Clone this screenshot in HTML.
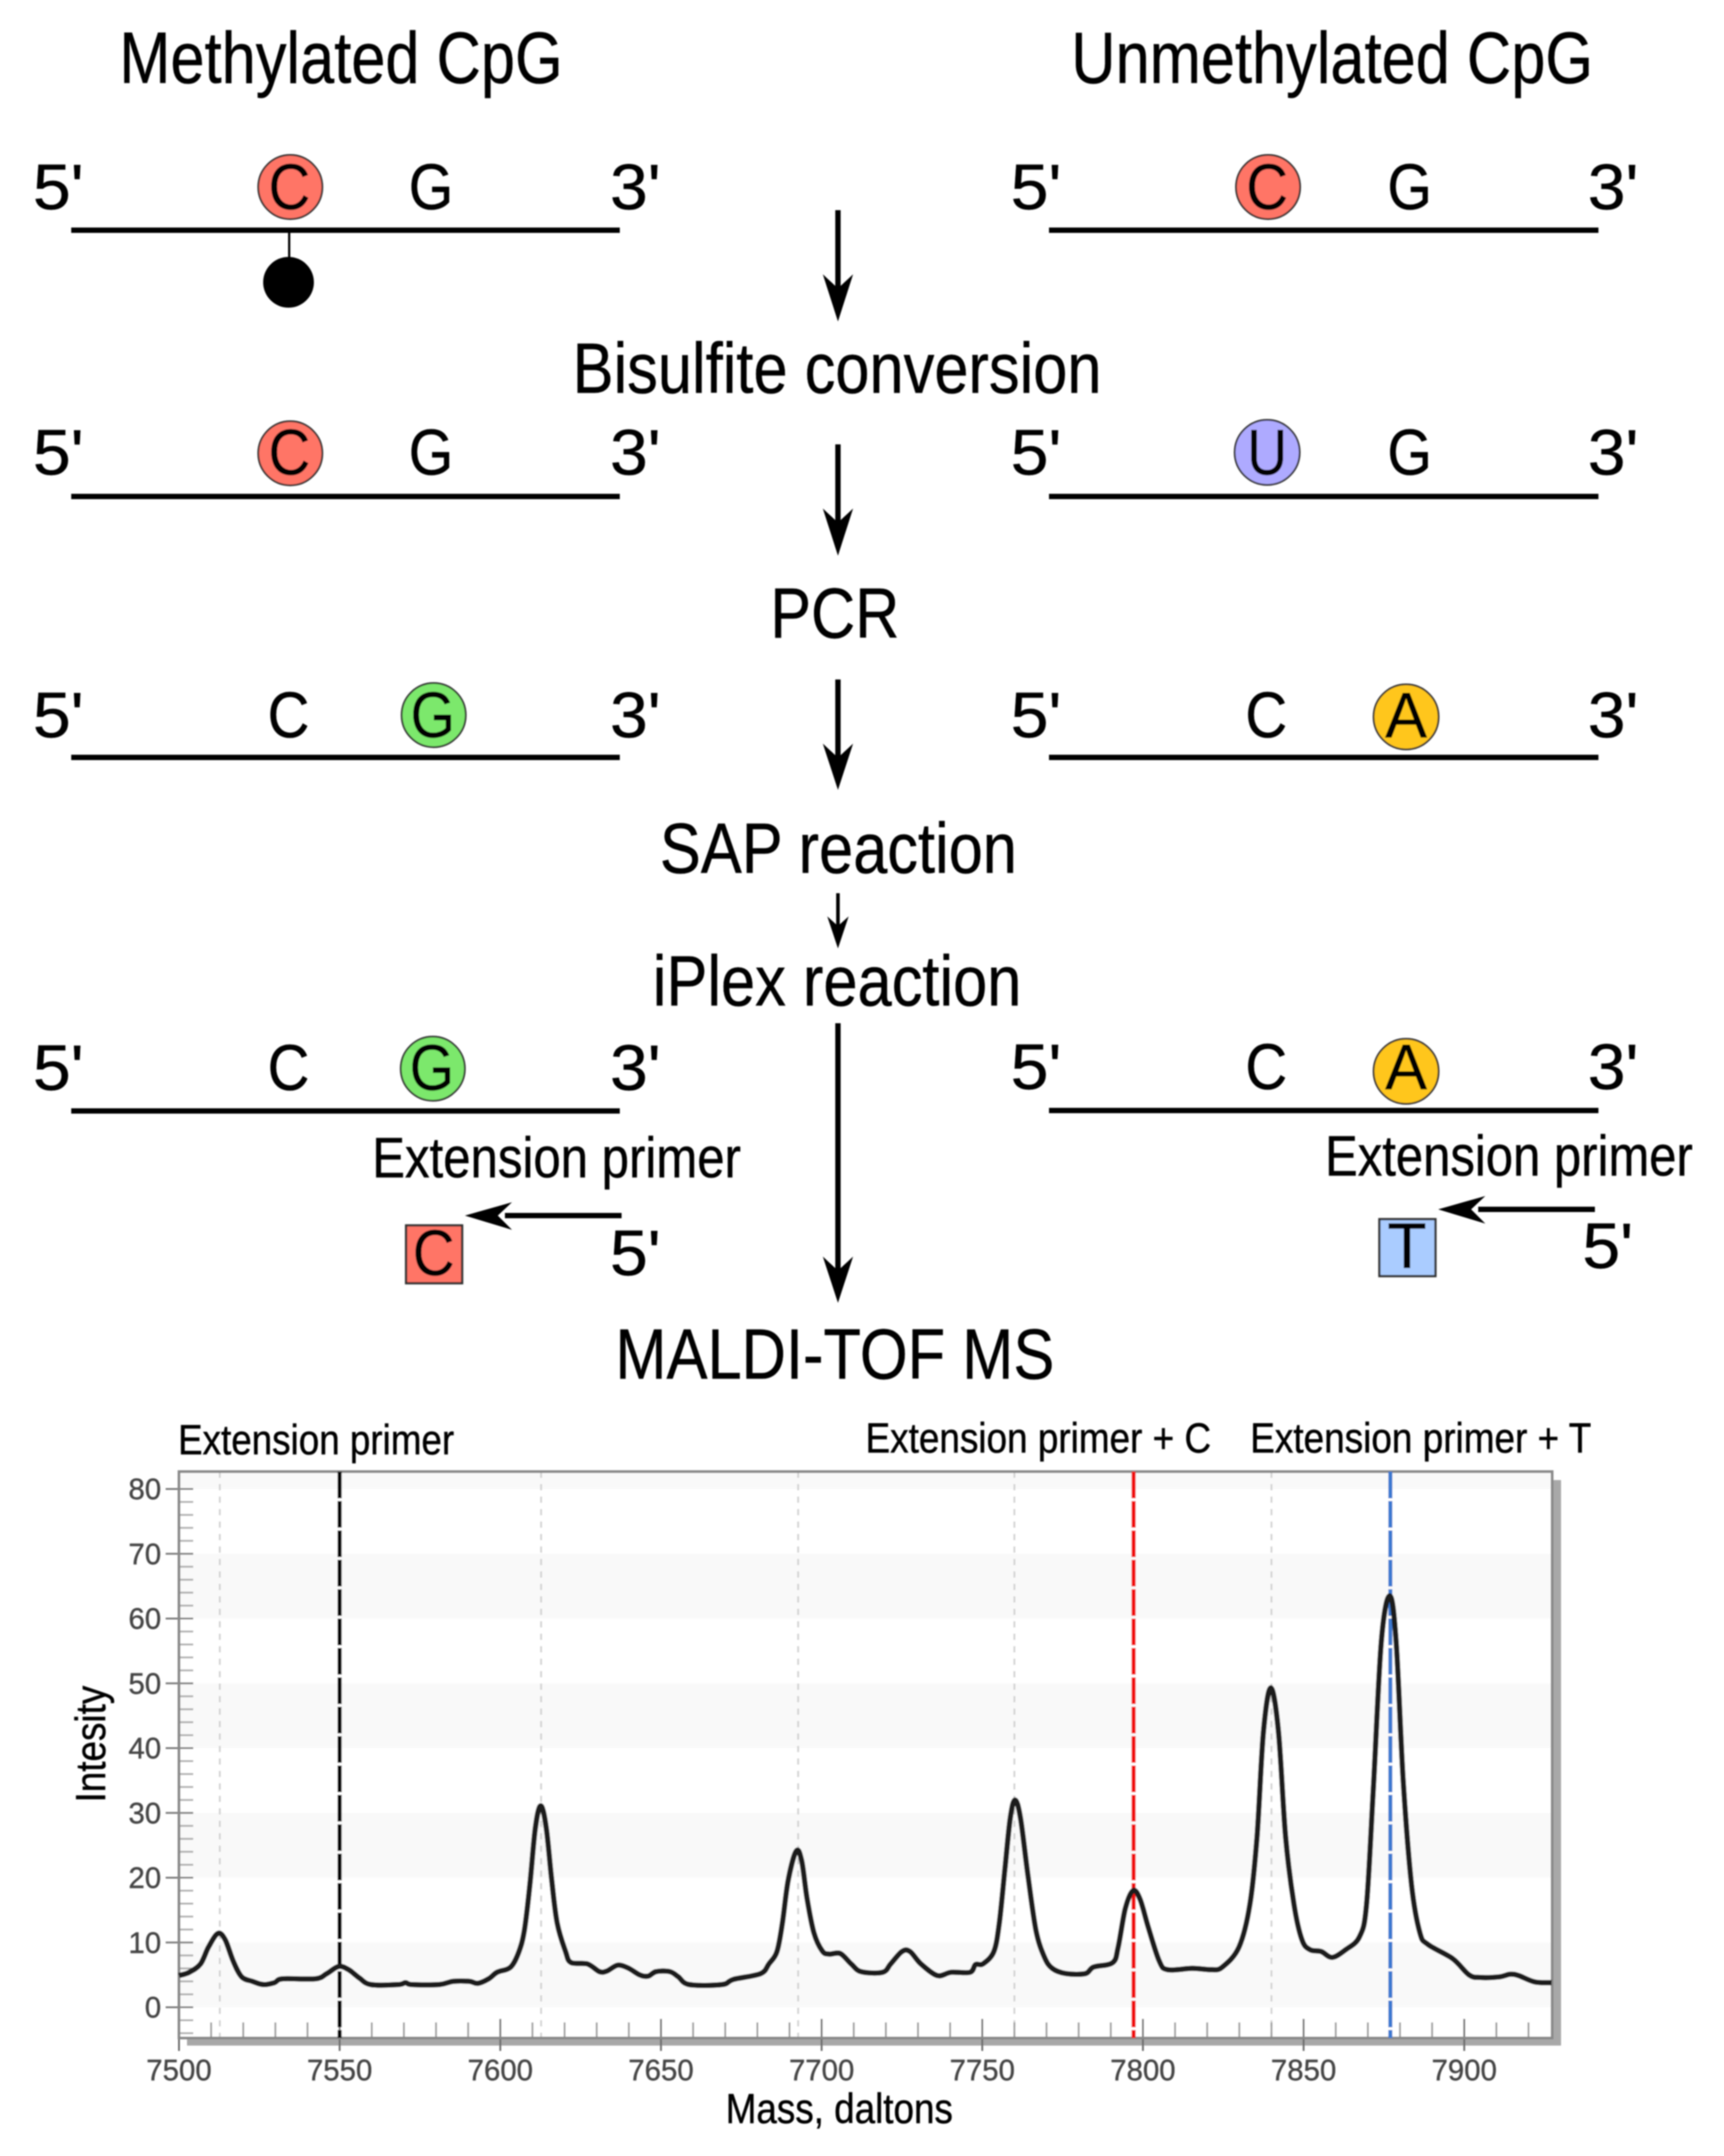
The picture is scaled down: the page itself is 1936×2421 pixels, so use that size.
<!DOCTYPE html>
<html lang="en">
<head>
<meta charset="utf-8">
<title>Methylated vs unmethylated CpG MassARRAY workflow</title>
<style>
html,body{margin:0;padding:0;background:#fff;}
svg{display:block;}
text{font-family:"Liberation Sans",sans-serif;fill:#000;stroke:#000;stroke-width:.5;}
</style>
</head>
<body>
<svg id="fig" xmlns="http://www.w3.org/2000/svg" width="1936" height="2421" viewBox="0 0 1936 2421">
<defs><filter id="soft" x="0" y="0" width="100%" height="100%"><feGaussianBlur stdDeviation="0.9"/></filter></defs>
<rect width="1936" height="2421" fill="#fff"/>
<g id="diagram" filter="url(#soft)">
<text x="134" y="93" font-size="82" textLength="498" lengthAdjust="spacingAndGlyphs">Methylated CpG</text>
<text x="1203" y="93" font-size="82" textLength="586" lengthAdjust="spacingAndGlyphs">Unmethylated CpG</text>
<text x="643" y="441" font-size="80" textLength="594" lengthAdjust="spacingAndGlyphs">Bisulfite conversion</text>
<text x="865" y="716" font-size="80" textLength="145" lengthAdjust="spacingAndGlyphs">PCR</text>
<text x="741" y="980" font-size="80" textLength="401" lengthAdjust="spacingAndGlyphs">SAP reaction</text>
<text x="733" y="1129" font-size="80" textLength="414" lengthAdjust="spacingAndGlyphs">iPlex reaction</text>
<text x="691" y="1548" font-size="80" textLength="493" lengthAdjust="spacingAndGlyphs">MALDI-TOF MS</text>

<g fill="#000" stroke="none">
<path d="M938 236h6v85l14 -13l-17 53l-17 -53l14 13z"/>
<path d="M938 499h6v85l14 -13l-17 53l-17 -53l14 13z"/>
<path d="M938 763h6v85l14 -13l-17 52l-17 -52l14 13z"/>
<path d="M939 1003h4v35l10 -9l-12 36l-12 -36l10 9z"/>
<path d="M938 1149h6v275l14 -13l-17 52l-17 -52l14 13z"/>
</g>

<!-- Left strand rows -->
<g>
<text x="37" y="235" font-size="72" textLength="57" lengthAdjust="spacingAndGlyphs">5'</text>
<text x="685" y="235" font-size="72" textLength="57" lengthAdjust="spacingAndGlyphs">3'</text>
<rect x="80" y="255.500" width="616" height="6" fill="#000"/>
<circle cx="326" cy="210" r="36" fill="#ff7566" stroke="#333" stroke-width="2"/>
<text x="325" y="235" font-size="72" text-anchor="middle" textLength="47" lengthAdjust="spacingAndGlyphs">C</text>
<text x="484" y="235" font-size="72" text-anchor="middle" textLength="50" lengthAdjust="spacingAndGlyphs">G</text>
<rect x="323.500" y="260" width="2.5" height="34" fill="#000"/>
<circle cx="324" cy="317" r="28.500" fill="#000"/>
</g>
<g>
<text x="37" y="533" font-size="72" textLength="57" lengthAdjust="spacingAndGlyphs">5'</text>
<text x="685" y="533" font-size="72" textLength="57" lengthAdjust="spacingAndGlyphs">3'</text>
<rect x="80" y="554.500" width="616" height="6" fill="#000"/>
<circle cx="326" cy="509" r="36" fill="#ff7566" stroke="#333" stroke-width="2"/>
<text x="325" y="533" font-size="72" text-anchor="middle" textLength="47" lengthAdjust="spacingAndGlyphs">C</text>
<text x="484" y="533" font-size="72" text-anchor="middle" textLength="50" lengthAdjust="spacingAndGlyphs">G</text>
</g>
<g>
<text x="37" y="828" font-size="72" textLength="57" lengthAdjust="spacingAndGlyphs">5'</text>
<text x="685" y="828" font-size="72" textLength="57" lengthAdjust="spacingAndGlyphs">3'</text>
<rect x="80" y="847.500" width="616" height="6" fill="#000"/>
<circle cx="487" cy="803" r="36" fill="#7be86c" stroke="#333" stroke-width="2"/>
<text x="324" y="828" font-size="72" text-anchor="middle" textLength="47" lengthAdjust="spacingAndGlyphs">C</text>
<text x="486" y="828" font-size="72" text-anchor="middle" textLength="50" lengthAdjust="spacingAndGlyphs">G</text>
</g>
<g>
<text x="37" y="1224" font-size="72" textLength="57" lengthAdjust="spacingAndGlyphs">5'</text>
<text x="685" y="1224" font-size="72" textLength="57" lengthAdjust="spacingAndGlyphs">3'</text>
<rect x="80" y="1244.500" width="616" height="6" fill="#000"/>
<circle cx="486" cy="1200" r="36" fill="#7be86c" stroke="#333" stroke-width="2"/>
<text x="324" y="1224" font-size="72" text-anchor="middle" textLength="47" lengthAdjust="spacingAndGlyphs">C</text>
<text x="485" y="1224" font-size="72" text-anchor="middle" textLength="50" lengthAdjust="spacingAndGlyphs">G</text>
<text x="418" y="1322" font-size="64" textLength="414" lengthAdjust="spacingAndGlyphs">Extension primer</text>
<path d="M698 1362v6H567v-6z M522 1365l53 -15l-16 15l16 16z" fill="#000"/>
<rect x="456" y="1376" width="63" height="65" fill="#ff7566" stroke="#333" stroke-width="2.500"/>
<text x="487" y="1432" font-size="72" text-anchor="middle" textLength="47" lengthAdjust="spacingAndGlyphs">C</text>
<text x="685" y="1432" font-size="72" textLength="57" lengthAdjust="spacingAndGlyphs">5'</text>
</g>

<!-- Right strand rows -->
<g>
<text x="1135" y="235" font-size="72" textLength="57" lengthAdjust="spacingAndGlyphs">5'</text>
<text x="1783" y="235" font-size="72" textLength="57" lengthAdjust="spacingAndGlyphs">3'</text>
<rect x="1178" y="255.500" width="617" height="6" fill="#000"/>
<circle cx="1424" cy="210" r="36" fill="#ff7566" stroke="#333" stroke-width="2"/>
<text x="1423" y="235" font-size="72" text-anchor="middle" textLength="47" lengthAdjust="spacingAndGlyphs">C</text>
<text x="1583" y="235" font-size="72" text-anchor="middle" textLength="50" lengthAdjust="spacingAndGlyphs">G</text>
</g>
<g>
<text x="1135" y="533" font-size="72" textLength="57" lengthAdjust="spacingAndGlyphs">5'</text>
<text x="1783" y="533" font-size="72" textLength="57" lengthAdjust="spacingAndGlyphs">3'</text>
<rect x="1178" y="554.500" width="617" height="6" fill="#000"/>
<circle cx="1423" cy="508" r="36.500" fill="#aeaaff" stroke="#333" stroke-width="2"/>
<text x="1423" y="533" font-size="72" text-anchor="middle" textLength="45" lengthAdjust="spacingAndGlyphs">U</text>
<text x="1583" y="533" font-size="72" text-anchor="middle" textLength="50" lengthAdjust="spacingAndGlyphs">G</text>
</g>
<g>
<text x="1135" y="828" font-size="72" textLength="57" lengthAdjust="spacingAndGlyphs">5'</text>
<text x="1783" y="828" font-size="72" textLength="57" lengthAdjust="spacingAndGlyphs">3'</text>
<rect x="1178" y="847.500" width="617" height="6" fill="#000"/>
<circle cx="1579" cy="805" r="36.500" fill="#ffc61a" stroke="#333" stroke-width="2"/>
<text x="1422" y="828" font-size="72" text-anchor="middle" textLength="47" lengthAdjust="spacingAndGlyphs">C</text>
<text x="1579" y="828" font-size="72" text-anchor="middle" textLength="47" lengthAdjust="spacingAndGlyphs">A</text>
</g>
<g>
<text x="1135" y="1223" font-size="72" textLength="57" lengthAdjust="spacingAndGlyphs">5'</text>
<text x="1783" y="1223" font-size="72" textLength="57" lengthAdjust="spacingAndGlyphs">3'</text>
<rect x="1178" y="1244" width="617" height="6" fill="#000"/>
<circle cx="1579" cy="1203" r="36.500" fill="#ffc61a" stroke="#333" stroke-width="2"/>
<text x="1422" y="1223" font-size="72" text-anchor="middle" textLength="47" lengthAdjust="spacingAndGlyphs">C</text>
<text x="1579" y="1223" font-size="72" text-anchor="middle" textLength="47" lengthAdjust="spacingAndGlyphs">A</text>
<text x="1488" y="1320" font-size="64" textLength="413" lengthAdjust="spacingAndGlyphs">Extension primer</text>
<path d="M1791 1355v6H1660v-6z M1615 1358l53 -15l-16 15l16 16z" fill="#000"/>
<rect x="1549" y="1369" width="63" height="64" fill="#aaccff" stroke="#333" stroke-width="2.500"/>
<text x="1580" y="1424" font-size="72" text-anchor="middle" textLength="44" lengthAdjust="spacingAndGlyphs">T</text>
<text x="1777" y="1424" font-size="72" textLength="57" lengthAdjust="spacingAndGlyphs">5'</text>
</g>
</g>
<g id="chart" filter="url(#soft)"></g>
</svg>
<script>
const masses = [7500,7503.2,7506.7,7509.2,7512.1,7514.4,7516.9,7519.5,7522.9,7526.3,7529.7,7532.3,7542.5,7546,7549.7,7552.8,7556.2,7559.7,7568.2,7570.5,7572.5,7581,7585.3,7590.4,7593,7596.4,7599,7603.2,7605.8,7607.5,7609.2,7610.9,7612.6,7614.3,7616,7617.7,7620.3,7622,7627.1,7630.9,7633.2,7636.6,7640,7643.4,7646,7648.5,7652.8,7655.4,7658.8,7669,7672.5,7681,7683.6,7686.1,7687.8,7689.6,7692.1,7693.8,7695.5,7697.6,7700.2,7702.4,7705.8,7709.2,7712.3,7719,7721.5,7725,7727.5,7730.9,7736,7740.3,7746.2,7747.9,7750.2,7753.6,7755.3,7757,7758.7,7760.2,7761.9,7764.2,7766.7,7769.3,7771.8,7776.1,7782.1,7784.6,7790.6,7792.3,7794.5,7796.9,7799.1,7801.7,7805.1,7807.7,7815.4,7821.3,7824.7,7829.9,7833.3,7835.5,7837.5,7839.8,7842.2,7844.4,7847,7849.5,7852,7855.5,7858.9,7863.1,7867.4,7869.6,7871.7,7874.2,7876.8,7878.8,7881,7883.6,7886.2,7888.7,7896.4,7901.5,7905,7911,7914.3,7916.9,7922,7927.2];
const intensities = [4.9,5.4,6.7,9.3,11.4,10.4,7.1,4.7,4.0,3.5,3.8,4.4,4.4,5.2,6.3,5.8,4.5,3.5,3.5,3.8,3.5,3.5,4.0,4.0,3.7,4.4,5.4,6.2,8.6,11.9,18.9,27.7,31.1,27.7,19.6,13,8.6,6.9,6.7,5.5,5.6,6.5,6,5,4.8,5.5,5.5,4.7,3.5,3.5,4.3,5.2,6.7,8.6,13,19.6,24.1,22.6,16.7,11.5,8.7,8.2,8.3,6.7,5.5,5.4,6.7,8.6,8.6,6.7,4.9,5.4,5.4,6.6,6.7,8.6,13,21.1,29.2,32,29.2,20.4,11.9,7.8,6,5.2,5.2,6.2,6.9,9.3,15.2,18,16.7,12.3,7.1,5.8,6,5.8,6.2,9.3,15.9,26.3,42.5,49.3,42.5,26.3,15.9,10.4,8.9,8.6,7.7,8.9,10.9,15.9,33.7,56.5,63.5,56.5,35.1,18.9,11.5,9.7,7.5,5,4.6,4.7,5.1,4.9,3.9,3.8];
const xTickLabels = [7500,7550,7600,7650,7700,7750,7800,7850,7900];
const yTickLabels = [80,70,60,50,40,30,20,10,0];
const xMinorTicks = [7510,7520,7530,7540,7560,7570,7580,7590,7610,7620,7630,7640,7660,7670,7680,7690,7710,7720,7730,7740,7760,7770,7780,7790,7810,7820,7830,7840,7860,7870,7880,7890,7910,7920];
const yMinorTicks = [78,76,74,72,68,66,64,62,58,56,54,52,48,46,44,42,38,36,34,32,28,26,24,22,18,16,14,12,8,6,4,2,-2,-4];
const bandStarts = [70,50,30,10];
const peakMasses = [7512.7,7612.7,7692.7,7760,7840];
const primerMass = 7550;
const primerCMass = 7797.1;
const primerTMass = 7877;

const NS = 'http://www.w3.org/2000/svg';
const chart = document.getElementById('chart');
const massMin = 7500, massMax = 7926.8, intMax = 80, intMin = 0;
const left = 201, plotRight = 1743, top0 = 1652.5, bottom = 2288.5, y80 = 1672, y0 = 2254;
function x(m){ return left + (m - massMin) * (1741 - left) / (massMax - massMin); }
function y(v){ return y0 + (v - intMin) * (y80 - y0) / (intMax - intMin); }
function mk(tag, attrs, txt){
  const el = document.createElementNS(NS, tag);
  for (const k in attrs) el.setAttribute(k, attrs[k]);
  if (txt !== undefined) el.textContent = txt;
  chart.appendChild(el);
  return el;
}
let el;
el = mk('rect', {x:210, y:1662, width:1543, height:635, fill:'#a8a8a8'});


el = mk('rect', {x:left, y:top0, width:plotRight-left, height:bottom-top0, fill:'#ffffff'});


el = mk('rect', {x:left, y:top0, width:plotRight-left, height:y(80)-top0, fill:'#f9f9f9'});


bandStarts.forEach(function(v){
  const b = mk('rect', {x:left, y:y(v), width:plotRight-left, height:y(v-10)-y(v), fill:'#f9f9f9'});
  
  
});
peakMasses.forEach(function(m){
  const l = mk('line', {x1:x(m), x2:x(m), y1:top0, y2:bottom, stroke:'#d0d0d0', 'stroke-width':2, 'stroke-dasharray':'7 7'});
  
  
});
yMinorTicks.forEach(function(v){
  const l = mk('line', {x1:left, x2:217, y1:y(v), y2:y(v), stroke:'#aaa', 'stroke-width':2});
  
  
});
yTickLabels.forEach(function(v){
  const l = mk('line', {x1:186, x2:217, y1:y(v), y2:y(v), stroke:'#777', 'stroke-width':2});
  
  
  const t = mk('text', {x:181, y:y(v)+11.5, 'font-size':33, 'text-anchor':'end', style:'fill:#444;stroke:#444;stroke-width:.4'}, String(v));
  
  
});
xMinorTicks.forEach(function(m){
  const l = mk('line', {x1:x(m), x2:x(m), y1:2271, y2:bottom, stroke:'#999', 'stroke-width':2});
  
  
});
xTickLabels.forEach(function(m){
  const l = mk('line', {x1:x(m), x2:x(m), y1:2267, y2:2303, stroke:'#666', 'stroke-width':2});
  
  
  const t = mk('text', {x:x(m), y:2336, 'font-size':33, 'text-anchor':'middle', style:'fill:#444;stroke:#444;stroke-width:.4'}, String(m));
  
  
});
el = mk('rect', {x:left, y:top0, width:plotRight-left, height:bottom-top0, fill:'none', stroke:'#888', 'stroke-width':3});


el = mk('line', {x1:x(primerMass), x2:x(primerMass), y1:top0, y2:bottom, stroke:'#000', 'stroke-width':4.5, 'stroke-dasharray':'30 3'});


el = mk('line', {x1:x(primerCMass), x2:x(primerCMass), y1:top0, y2:bottom, stroke:'#f01010', 'stroke-width':4.5, 'stroke-dasharray':'30 3'});


el = mk('line', {x1:x(primerTMass), x2:x(primerTMass), y1:top0, y2:bottom, stroke:'#3a78d0', 'stroke-width':4.5, 'stroke-dasharray':'30 3'});


const pts = masses.map(function(m, i){ return [x(m), y(intensities[i])]; });
let d = 'M' + pts[0][0].toFixed(1) + ' ' + pts[0][1].toFixed(1);
for (let i = 0; i < pts.length - 1; i++) {
  const p0 = pts[Math.max(i - 1, 0)], p1 = pts[i], p2 = pts[i + 1], p3 = pts[Math.min(i + 2, pts.length - 1)];
  const c1x = p1[0] + (p2[0] - p0[0]) / 6, c1y = p1[1] + (p2[1] - p0[1]) / 6;
  const c2x = p2[0] - (p3[0] - p1[0]) / 6, c2y = p2[1] - (p3[1] - p1[1]) / 6;
  d += 'C' + c1x.toFixed(1) + ' ' + c1y.toFixed(1) + ' ' + c2x.toFixed(1) + ' ' + c2y.toFixed(1) + ' ' + p2[0].toFixed(1) + ' ' + p2[1].toFixed(1);
}
el = mk('path', {d:d, fill:'none', stroke:'#1a1a1a', 'stroke-width':6, 'stroke-linejoin':'round'});


el = mk('text', {x:200, y:1633, 'font-size':47, textLength:310, lengthAdjust:'spacingAndGlyphs'}, 'Extension primer');


el = mk('text', {x:972, y:1631, 'font-size':47, textLength:388, lengthAdjust:'spacingAndGlyphs'}, 'Extension primer + C');


el = mk('text', {x:1404, y:1631, 'font-size':47, textLength:383, lengthAdjust:'spacingAndGlyphs'}, 'Extension primer + T');


el = mk('text', {x:815, y:2384, 'font-size':47, textLength:255, lengthAdjust:'spacingAndGlyphs'}, 'Mass, daltons');


el = mk('text', {x:0, y:0, 'font-size':47, textLength:131, lengthAdjust:'spacingAndGlyphs', transform:'translate(118 2024) rotate(-90)'}, 'Intesity');


</script>
</body>
</html>
